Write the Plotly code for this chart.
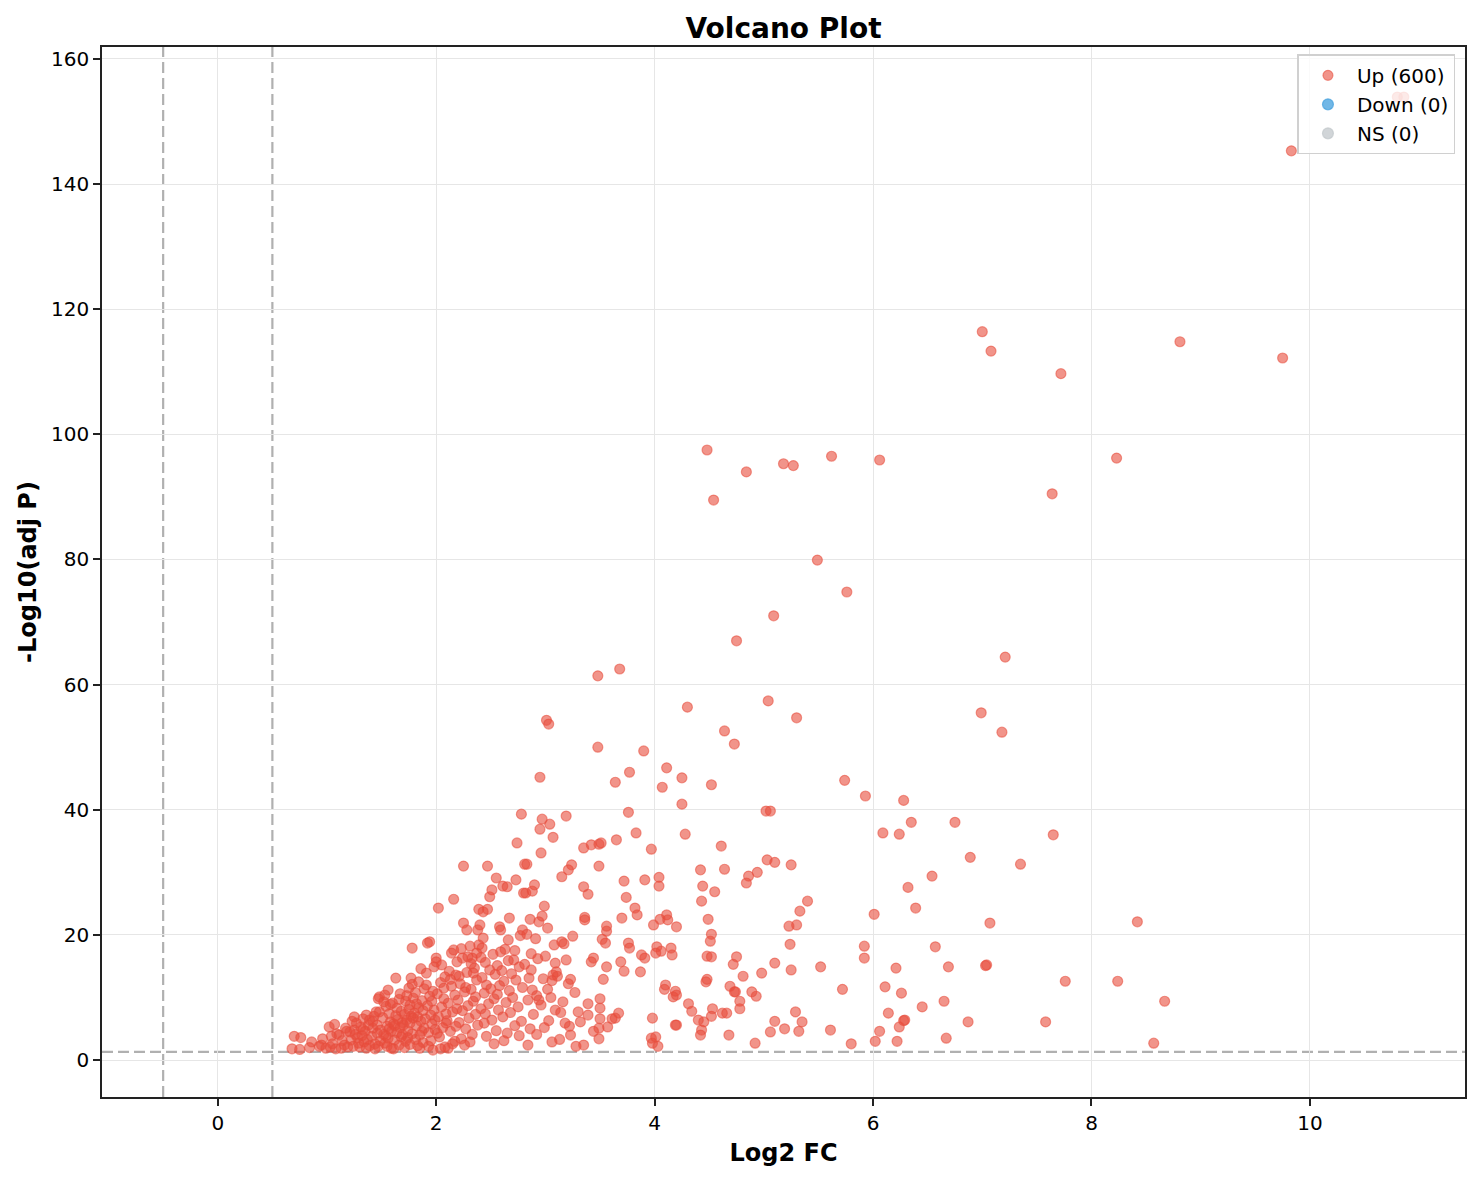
import plotly.graph_objects as go

# point estimates, grouped by x range
# dense cluster, log2 fc < 3.15
cluster_fc = [
    0.68, 0.70, 0.75, 0.76, 0.86, 0.84,
    0.93, 0.95, 0.96, 0.99,
    1.02, 1.03, 1.04, 1.07, 1.05, 1.09, 1.08,
    1.11, 1.13, 1.14, 1.16, 1.18, 1.19, 1.17,
    1.21, 1.25, 1.25, 1.22, 1.24, 1.27, 1.28, 1.23, 1.29, 1.26,
    1.30, 1.31, 1.32, 1.33, 1.34, 1.35, 1.36, 1.37, 1.38, 1.39, 1.39, 1.33, 1.36,
    1.41, 1.42, 1.43, 1.44, 1.45, 1.46, 1.47, 1.48, 1.48, 1.49, 1.42, 1.46, 1.44, 1.47, 1.49,
    1.51, 1.52, 1.53, 1.53, 1.54, 1.55, 1.56, 1.56, 1.57, 1.58, 1.59, 1.59, 1.52, 1.55, 1.58, 1.54, 1.57,
    1.60, 1.61, 1.62, 1.63, 1.63, 1.64, 1.65, 1.66, 1.66, 1.67, 1.68, 1.68, 1.69, 1.61, 1.64, 1.67, 1.69, 1.62,
    1.70, 1.71, 1.72, 1.72, 1.73, 1.74, 1.75, 1.75, 1.76, 1.76, 1.77, 1.77, 1.78, 1.78, 1.79, 1.79, 1.71, 1.73, 1.74, 1.76, 1.78,
    1.80, 1.81, 1.81, 1.82, 1.83, 1.84, 1.84, 1.85, 1.86, 1.86, 1.87, 1.88, 1.88, 1.89, 1.89, 1.82, 1.85, 1.87, 1.83,
    1.90, 1.91, 1.91, 1.92, 1.92, 1.93, 1.94, 1.94, 1.95, 1.95, 1.96, 1.97, 1.97, 1.98, 1.98, 1.99, 1.93, 1.96, 1.99,
    2.00, 2.00, 2.01, 2.02, 2.02, 2.03, 2.04, 2.05, 2.05, 2.06, 2.07, 2.08, 2.08, 2.09, 2.01, 2.04, 2.07, 2.09,
    2.10, 2.11, 2.12, 2.13, 2.14, 2.14, 2.15, 2.16, 2.16, 2.17, 2.17, 2.18, 2.19, 2.19, 2.11, 2.13, 2.15, 2.18,
    2.20, 2.21, 2.22, 2.23, 2.24, 2.24, 2.25, 2.25, 2.26, 2.27, 2.28, 2.28, 2.29, 2.29, 2.21, 2.23, 2.26, 2.27,
    2.30, 2.31, 2.32, 2.33, 2.33, 2.34, 2.35, 2.36, 2.37, 2.37, 2.38, 2.38, 2.39, 2.39, 2.31, 2.34, 2.36, 2.32,
    2.40, 2.41, 2.42, 2.42, 2.43, 2.44, 2.44, 2.45, 2.46, 2.46, 2.47, 2.47, 2.48, 2.49, 2.49, 2.41, 2.45, 2.43,
    2.50, 2.51, 2.51, 2.52, 2.53, 2.54, 2.55, 2.55, 2.56, 2.57, 2.58, 2.58, 2.59, 2.59, 2.53, 2.56,
    2.60, 2.61, 2.61, 2.62, 2.63, 2.64, 2.65, 2.65, 2.66, 2.67, 2.67, 2.68, 2.69, 2.62, 2.66,
    2.70, 2.71, 2.72, 2.73, 2.73, 2.74, 2.75, 2.76, 2.77, 2.78, 2.78, 2.79, 2.79, 2.72, 2.76,
    2.80, 2.81, 2.81, 2.82, 2.83, 2.83, 2.84, 2.85, 2.86, 2.86, 2.87, 2.88, 2.88, 2.89, 2.84, 2.87,
    2.90, 2.91, 2.92, 2.93, 2.94, 2.95, 2.95, 2.96, 2.96, 2.97, 2.97, 2.98, 2.99, 2.99, 2.92, 2.94,
    3.01, 3.03, 3.02, 3.04, 3.00, 3.05, 3.06, 3.07, 3.07, 3.08, 3.09, 3.10, 3.11, 3.03, 3.06, 3.09, 3.02,
]
cluster_p = [
    1.8, 3.8, 1.7, 3.6, 2.9, 2.0,
    2.2, 2.4, 3.4, 1.9,
    5.3, 2.1, 3.8, 5.7, 2.6, 4.2, 1.8,
    4.0, 1.9, 3.1, 2.4, 4.6, 2.1, 5.1,
    4.5, 4.8, 6.9, 3.2, 2.2, 5.9, 3.6, 6.2, 2.7, 4.1,
    2.1, 5.3, 3.9, 6.6, 2.9, 4.6, 7.2, 3.3, 5.6, 6.4, 2.3, 4.9, 1.9,
    3.8, 5.1, 7.0, 2.6, 7.7, 4.3, 9.8, 7.7, 10.1, 3.1, 6.2, 5.6, 1.8, 2.2, 4.8,
    6.8, 4.1, 10.4, 2.7, 8.6, 5.4, 11.2, 3.5, 7.4, 6.1, 4.6, 1.9, 9.3, 2.2, 8.9, 3.9, 5.0,
    9.1, 5.8, 3.2, 13.1, 7.1, 4.4, 6.5, 2.4, 9.7, 5.2, 3.7, 7.8, 6.0, 1.8, 8.3, 10.6, 4.1, 5.5,
    5.6, 7.3, 9.4, 3.0, 6.4, 4.7, 11.5, 8.1, 2.5, 5.9, 13.1, 7.0, 17.9, 4.2, 9.9, 6.7, 2.0, 10.3, 3.6, 8.8, 12.1,
    7.5, 3.3, 10.8, 5.5, 6.9, 12.5, 8.4, 4.0, 6.2, 14.6, 9.5, 2.8, 7.9, 11.4, 5.1, 9.0, 1.9, 4.6, 2.3,
    6.6, 13.9, 12.0, 18.7, 8.7, 4.4, 10.2, 18.9, 7.2, 3.1, 5.8, 11.0, 1.6, 14.9, 8.0, 4.9, 2.2, 9.4, 6.4,
    15.7, 16.3, 10.6, 24.3, 6.9, 3.7, 12.4, 15.2, 8.5, 5.2, 9.8, 2.1, 13.3, 7.4, 4.3, 1.8, 11.5, 5.9,
    6.3, 9.1, 14.2, 4.6, 17.1, 11.8, 7.7, 17.6, 25.7, 3.0, 10.4, 5.4, 15.7, 8.2, 1.9, 12.9, 2.6, 13.6,
    9.6, 6.0, 12.2, 3.4, 16.3, 7.9, 21.9, 31.0, 10.9, 5.0, 20.8, 14.0, 16.5, 8.7, 13.4, 17.8, 2.4, 11.6,
    6.7, 18.2, 11.3, 16.3, 4.1, 9.4, 14.7, 7.3, 17.1, 12.8, 20.8, 5.6, 18.4, 24.1, 2.9, 13.9, 10.1, 15.4,
    21.6, 8.2, 17.9, 13.2, 23.7, 5.9, 10.7, 15.6, 3.8, 12.0, 24.1, 31.0, 9.0, 26.1, 14.4, 16.4, 7.4, 19.5,
    11.4, 27.2, 6.4, 16.9, 9.8, 13.7, 29.1, 4.7, 15.1, 8.0, 21.3, 11.9, 20.8, 17.3, 2.6, 10.5,
    14.3, 27.8, 6.9, 12.6, 17.7, 9.2, 27.7, 4.3, 15.9, 22.7, 11.1, 7.6, 13.8, 3.1, 19.2,
    10.0, 16.0, 5.5, 28.8, 12.8, 34.7, 8.5, 14.9, 19.9, 39.3, 6.2, 20.8, 11.6, 17.5, 3.9,
    26.7, 31.3, 15.3, 26.7, 31.3, 20.1, 9.6, 13.1, 22.5, 5.0, 17.0, 27.0, 11.2, 7.3, 2.4, 14.4,
    28.0, 19.4, 10.3, 16.2, 22.1, 45.2, 36.9, 33.1, 8.8, 38.5, 23.0, 13.0, 24.6, 5.2, 4.1, 9.6,
    54.3, 53.7, 21.1, 37.7, 16.6, 10.0, 12.7, 35.6, 13.6, 18.4, 15.5, 14.1, 13.4, 6.3, 2.9, 8.0, 11.3,
]

# sparse points, log2 fc >= 3.1
spread_fc = [
    10.80, 10.86, 9.83,
    7.00, 7.08, 8.81, 9.75, 7.72,
    4.48, 4.84, 4.54, 5.18, 5.27, 5.62, 6.06, 8.23, 7.64,
    5.49, 5.76, 5.09, 4.75, 7.21, 3.48, 3.68,
    4.30, 5.04, 5.30, 6.99, 7.18, 4.64, 4.73, 3.48, 3.90,
    4.11, 3.77, 3.64, 4.25, 4.07, 4.52, 5.74, 5.93, 6.28, 4.25,
    3.76, 5.02, 5.06, 3.19, 6.35, 6.75, 3.83, 6.09, 6.24, 7.65, 4.28,
    3.49, 3.51, 3.42, 3.35, 3.65, 3.97, 4.61, 6.89, 5.03, 5.10, 5.25, 7.35, 3.24, 3.49,
    3.21, 4.42, 4.64, 4.94, 6.54, 3.72, 4.04, 4.86, 4.84, 3.15, 3.91,
    3.35, 4.44, 4.04, 6.32, 4.55, 3.39, 3.74, 4.43, 5.40, 5.33, 6.39, 3.82, 3.84, 6.01,
    7.07, 8.42, 3.36, 3.36, 3.70, 3.99, 4.05, 4.11, 4.12, 4.20, 4.49,
    4.52, 4.51, 3.56, 3.56, 3.55, 3.52, 3.25, 3.15, 3.17, 3.76, 3.77, 3.88, 3.91, 4.02, 4.06, 4.01,
    4.15, 4.16, 4.48, 4.52, 4.75, 4.72, 4.81, 4.98, 5.10, 5.23, 5.30, 5.24, 5.25, 5.52,
    5.92, 6.57, 5.92, 6.21, 6.69, 7.04, 7.03, 7.76, 5.72, 6.11, 6.26, 6.65, 6.45, 6.14, 6.29, 6.28,
    6.24, 6.87, 7.58, 5.61, 6.06, 5.80, 6.02, 6.22, 6.67,
    8.24, 8.67, 8.57,
    3.19, 3.42, 3.44, 3.56, 3.69, 3.72, 3.87, 3.23, 3.53, 4.09, 4.10, 4.17, 4.19, 4.20, 4.47, 4.48,
    4.69, 4.73, 4.74, 4.78, 4.78, 4.89, 4.93, 5.29, 5.35, 5.32, 5.19, 5.10, 5.06, 4.92, 4.68,
    4.62, 4.66, 4.53, 4.52, 4.45, 4.43, 4.42, 4.40, 4.34, 4.31, 4.19, 4.20, 3.98, 3.97, 3.98, 4.03, 4.01,
    3.67, 3.64, 3.61, 3.57, 3.50, 3.50, 3.50, 3.49, 3.49, 3.39, 3.39, 3.35, 3.30, 3.32, 3.23, 3.22,
    3.16, 3.14, 3.18, 3.27, 3.13, 3.21, 3.28, 3.44,
]
spread_p = [
    153.9, 153.9, 145.3,
    116.4, 113.3, 114.8, 112.2, 109.7,
    97.5, 94.0, 89.5, 95.3, 95.0, 96.5, 95.9, 96.2, 90.5,
    79.9, 74.8, 71.0, 67.0, 64.4, 61.4, 62.5,
    56.4, 57.4, 54.7, 55.5, 52.4, 52.6, 50.5, 50.0, 49.4,
    46.7, 46.0, 44.4, 45.1, 43.6, 44.0, 44.7, 42.2, 41.5, 40.9,
    39.6, 39.8, 39.8, 39.0, 38.0, 38.0, 36.3, 36.3, 36.1, 36.0, 36.1,
    34.5, 34.7, 34.4, 33.9, 35.2, 33.7, 34.2, 32.4, 32.0, 31.6, 31.2, 31.3, 31.2, 31.0,
    30.4, 30.4, 30.5, 30.0, 29.4, 28.6, 29.2, 29.4, 28.3, 29.3, 28.8,
    27.7, 27.8, 27.8, 27.6, 26.9, 26.5, 26.0, 25.4, 25.4, 23.8, 24.3, 24.3, 23.2, 23.3,
    21.9, 22.1, 22.8, 22.4, 22.7, 21.6, 22.5, 23.2, 22.4, 21.3, 22.5,
    20.1, 19.0, 21.4, 20.6, 18.7, 19.3, 19.8, 18.9, 18.6, 18.7, 17.9, 16.8, 16.3, 18.1, 17.4, 17.1,
    17.9, 16.8, 16.6, 16.5, 16.5, 15.3, 13.4, 13.9, 15.5, 21.4, 21.6, 18.5, 14.4, 14.9,
    18.2, 18.1, 16.3, 14.7, 14.9, 15.2, 15.1, 12.6, 11.3, 11.7, 10.7, 9.4, 8.5, 7.5, 6.4, 6.3,
    5.3, 6.1, 6.1, 4.8, 4.6, 2.6, 3.0, 3.0, 3.5,
    12.6, 9.4, 2.7,
    16.0, 15.7, 16.3, 14.9, 15.7, 14.2, 14.1, 12.9, 12.9, 11.3, 12.0, 10.1, 11.0, 10.4, 12.5, 12.9,
    11.8, 10.9, 10.9, 9.4, 8.2, 10.9, 10.2, 7.7, 6.1, 4.6, 5.0, 6.2, 4.5, 2.7, 4.0,
    7.5, 7.5, 8.2, 7.0, 6.1, 4.8, 4.0, 6.4, 7.8, 9.0, 5.6, 5.6, 6.7, 3.5, 2.7, 2.2, 3.7,
    7.5, 6.7, 6.6, 5.3, 9.8, 8.3, 6.6, 5.1, 3.4, 9.0, 7.2, 2.4, 7.7, 6.1, 4.0, 5.4,
    9.3, 7.6, 5.9, 10.8, 3.3, 12.2, 2.2, 4.6,
]

log2_fc = cluster_fc + spread_fc
neg_log10_p = cluster_p + spread_p

fc_cut = 0.5
p_cut = 1.301

fig = go.Figure()

fig.add_trace(go.Scatter(x=log2_fc, y=neg_log10_p, mode='markers', name='Up (600)',
                         marker=dict(color='rgba(231,76,60,0.6)', size=10,
                                     line=dict(color='rgba(231,76,60,0.55)', width=1.2))))
fig.add_trace(go.Scatter(x=[None], y=[None], mode='markers', name='Down (0)',
                         marker=dict(color='rgba(52,152,219,0.7)', size=11,
                                     line=dict(color='rgba(52,152,219,0.6)', width=1.2))))
fig.add_trace(go.Scatter(x=[None], y=[None], mode='markers', name='NS (0)',
                         marker=dict(color='rgba(189,195,199,0.7)', size=11,
                                     line=dict(color='rgba(189,195,199,0.6)', width=1.2))))

# threshold lines
dash_line = dict(color='#b0b0b0', width=2.2, dash='11px,5px')
for xv in (-fc_cut, fc_cut):
    fig.add_shape(type='line', x0=xv, x1=xv, y0=0, y1=1, xref='x', yref='paper',
                  line=dash_line, layer='below')
fig.add_shape(type='line', x0=0, x1=1, y0=p_cut, y1=p_cut, xref='paper', yref='y',
              line=dash_line, layer='below')

axis_style = dict(showline=True, linecolor='#222222', linewidth=1.6, mirror=True,
                  ticks='outside', ticklen=7, tickwidth=1.6, tickcolor='#222222',
                  showgrid=True, gridcolor='#e6e6e6', gridwidth=1.2, zeroline=False,
                  tickfont=dict(family='DejaVu Sans', size=20, color='black'))

# page body has an 8px margin, so the figure is shifted by that amount
fig.update_layout(
    width=1466, height=1164,
    plot_bgcolor='white', paper_bgcolor='white',
    margin=dict(l=94, r=7, t=39, b=75),
    title=dict(text='<b>Volcano Plot</b>', x=0.5, xref='paper', y=0.983, yanchor='middle',
               font=dict(family='DejaVu Sans', size=28, color='black')),
    xaxis=dict(axis_style, range=[-1.06, 11.42], tickvals=[0, 2, 4, 6, 8, 10],
               title=dict(text='<b>Log2 FC</b>', standoff=10,
                          font=dict(family='DejaVu Sans', size=24, color='black'))),
    yaxis=dict(axis_style, range=[-5.9, 161.9], tickvals=list(range(0, 161, 20)),
               title=dict(text='<b>-Log10(adj P)</b>', standoff=8,
                          font=dict(family='DejaVu Sans', size=24, color='black'))),
    legend=dict(x=0.993, y=0.993, xanchor='right', yanchor='top',
                bgcolor='rgba(255,255,255,0.8)', bordercolor='#d0d0d0', borderwidth=1.5,
                font=dict(family='DejaVu Sans', size=20, color='black'), itemwidth=48),
    showlegend=True,
)

fig.write_html("out.html")
